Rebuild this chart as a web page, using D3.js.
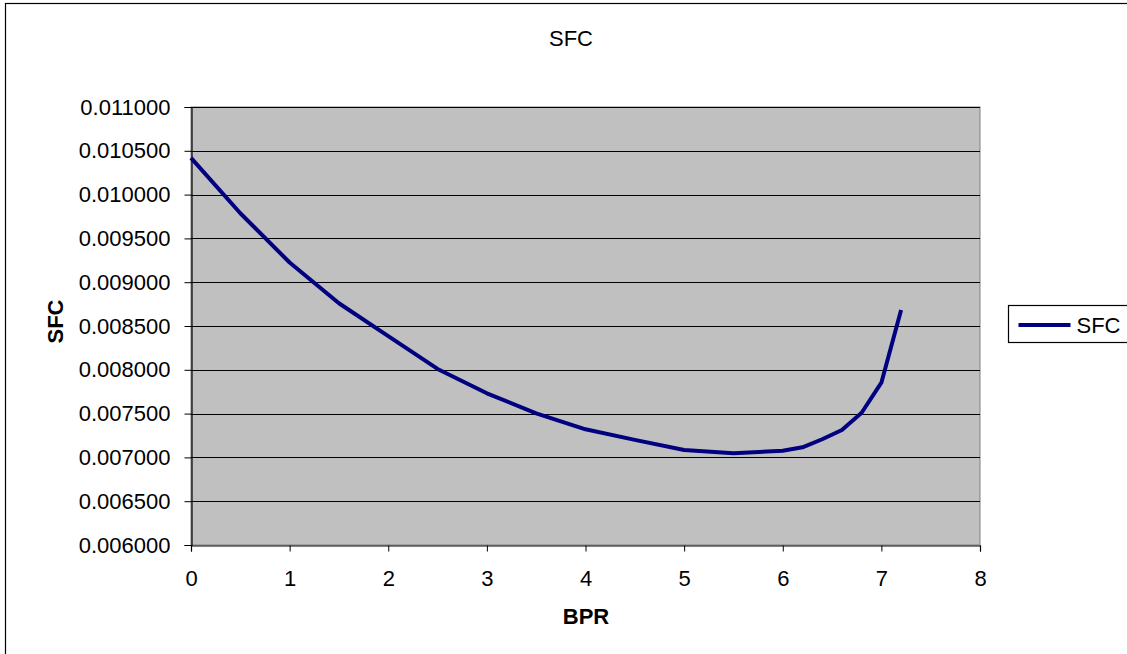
<!DOCTYPE html>
<html>
<head>
<meta charset="utf-8">
<script src="https://cdn.jsdelivr.net/npm/d3@7"></script>
<style>
  body { margin: 0; background: #fff; }
  svg { display: block; font-family: "Liberation Sans", Arial, sans-serif; }
</style>
</head>
<body>
<div id="chart"></div>
<script>
// BPR vs SFC
const bpr = [0, 0.5, 1, 1.5, 2, 2.5, 3, 3.5, 4, 4.5, 5, 5.5, 6, 6.2, 6.4, 6.6, 6.8, 7, 7.2];
const sfc = [0.010420, 0.009787, 0.009225, 0.008760, 0.008385, 0.008010, 0.007732, 0.007503,
  0.007321, 0.007200, 0.007085, 0.007047, 0.007077, 0.007115, 0.007207, 0.007313,
  0.007510, 0.007853, 0.008683];
const xTicks = [0, 1, 2, 3, 4, 5, 6, 7, 8];
const yTicks = [0.006, 0.0065, 0.007, 0.0075, 0.008, 0.0085, 0.009, 0.0095, 0.010, 0.0105, 0.011];

const width = 1127, height = 654;
const plot = { left: 191, top: 107, right: 980, bottom: 545 };
const fontSize = "22px";

const svg = d3.select("#chart").append("svg")
  .attr("width", width).attr("height", height);

// outer chart frame (cut off on the right and bottom)
svg.append("rect")
  .attr("x", 5.5).attr("y", 3.5)
  .attr("width", width + 10).attr("height", height + 10)
  .attr("fill", "none").attr("stroke", "#000").attr("stroke-width", 1.2);

const x = d3.scaleLinear().domain([0, 8]).range([plot.left, plot.right]);
const y = d3.scaleLinear().domain([0.006, 0.011]).range([plot.bottom, plot.top]);

// plot area
svg.append("rect")
  .attr("x", plot.left).attr("y", plot.top)
  .attr("width", plot.right - plot.left).attr("height", plot.bottom - plot.top)
  .attr("fill", "#c0c0c0").attr("stroke", "#808080").attr("stroke-width", 1);

// gridlines
svg.append("g").selectAll("line")
  .data(yTicks.slice(1))
  .join("line")
  .attr("x1", plot.left).attr("x2", plot.right)
  .attr("y1", d => Math.round(y(d)) + 0.5).attr("y2", d => Math.round(y(d)) + 0.5)
  .attr("stroke", "#000").attr("stroke-width", 1.2);

// axes
const yAxis = svg.append("g")
  .attr("transform", `translate(${plot.left + 0.5},0)`)
  .call(d3.axisLeft(y).tickValues(yTicks).tickFormat(d3.format(".6f")).tickSize(7).tickPadding(14));
const xAxis = svg.append("g")
  .attr("transform", `translate(0,${plot.bottom + 0.5})`)
  .call(d3.axisBottom(x).tickValues(xTicks).tickFormat(d3.format("d")).tickSize(6).tickPadding(19));

[yAxis, xAxis].forEach(a => {
  a.select(".domain").attr("stroke", "#000").attr("stroke-width", 1.2);
  a.selectAll(".tick line").attr("stroke", "#000");
  a.selectAll(".tick text").attr("fill", "#000").style("font-size", fontSize)
    .style("font-family", "'Liberation Sans', Arial, sans-serif");
});

// series line
const line = d3.line()
  .x((d, i) => x(bpr[i]))
  .y(d => y(d));
svg.append("path")
  .datum(sfc)
  .attr("d", line)
  .attr("fill", "none")
  .attr("stroke", "#000080")
  .attr("stroke-width", 4)
  .attr("stroke-linejoin", "round");

// titles
svg.append("text")
  .attr("x", 571).attr("y", 46)
  .attr("text-anchor", "middle")
  .style("font-size", fontSize)
  .text("SFC");

svg.append("text")
  .attr("x", 586).attr("y", 624)
  .attr("text-anchor", "middle")
  .style("font-size", fontSize).style("font-weight", "bold")
  .text("BPR");

svg.append("text")
  .attr("transform", "translate(63,321.5) rotate(-90)")
  .attr("text-anchor", "middle")
  .style("font-size", fontSize).style("font-weight", "bold")
  .text("SFC");

// legend
const legend = svg.append("g").attr("transform", "translate(1008.5,305.5)");
legend.append("rect")
  .attr("width", 140).attr("height", 37)
  .attr("fill", "#fff").attr("stroke", "#000").attr("stroke-width", 1.2);
legend.append("line")
  .attr("x1", 10).attr("x2", 62).attr("y1", 19.5).attr("y2", 19.5)
  .attr("stroke", "#000080").attr("stroke-width", 4);
legend.append("text")
  .attr("x", 68).attr("y", 27.5)
  .style("font-size", fontSize)
  .text("SFC");
</script>
</body>
</html>
